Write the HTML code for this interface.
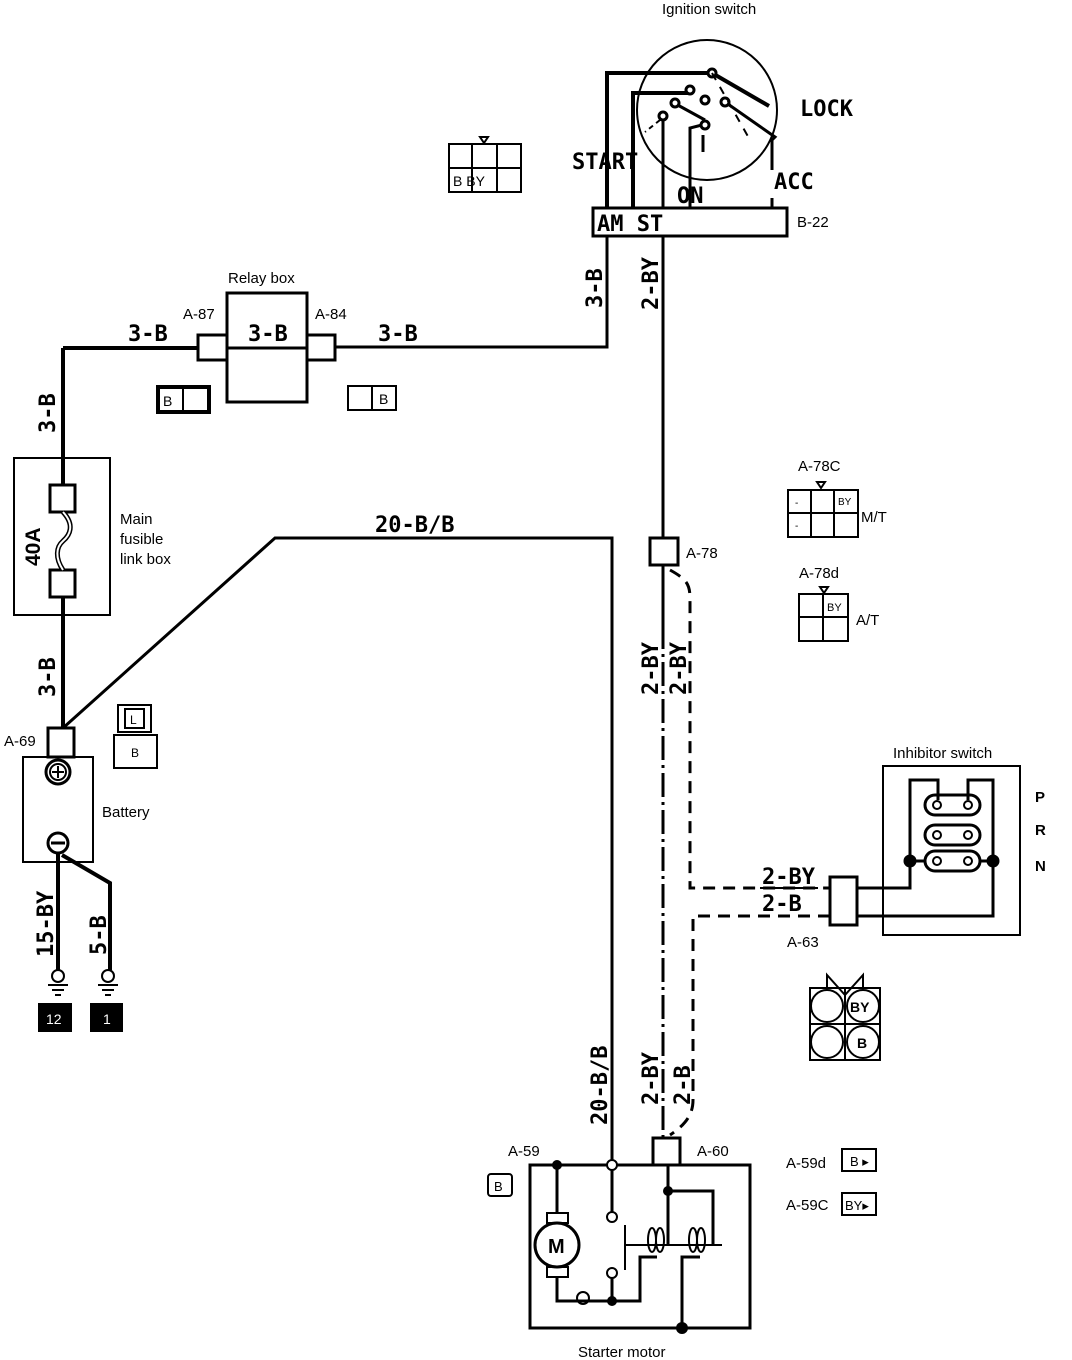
<!DOCTYPE html>
<html><head><meta charset="utf-8"><style>
html,body{margin:0;padding:0;background:#fff}
svg{display:block}
text{font-family:"Liberation Sans",sans-serif;fill:#000}
.w{font-size:22px;font-family:"DejaVu Sans Mono","Liberation Mono",monospace;font-weight:bold}
.s{font-size:15px}
</style></head><body>
<svg width="1072" height="1360" viewBox="0 0 1072 1360" xmlns="http://www.w3.org/2000/svg" fill="none" stroke="#000" stroke-width="3">
<!-- Ignition switch -->
<text class="s" x="662" y="14" stroke="none">Ignition switch</text>
<circle cx="707" cy="110" r="70" stroke-width="2"/>
<polyline points="607,208 607,73 712,73" stroke-width="4"/>
<polyline points="633,208 633,93 688,93" stroke-width="4"/>
<line x1="712" y1="73" x2="769" y2="106" stroke-width="4"/>
<line x1="663" y1="208" x2="663" y2="116" stroke-width="3"/>
<polyline points="674,103 705,120" stroke-width="3"/>
<polyline points="690,208 690,128 702,125" stroke-width="3"/>
<polyline points="725,102 775,137 772,140 772,170" stroke-width="3"/>
<line x1="772" y1="198" x2="772" y2="208" stroke-width="3"/>
<circle cx="712" cy="73" r="4" fill="#fff"/><circle cx="690" cy="90" r="4" fill="#fff"/>
<circle cx="675" cy="103" r="4" fill="#fff"/><circle cx="705" cy="100" r="4" fill="#fff"/>
<circle cx="663" cy="116" r="4" fill="#fff"/><circle cx="705" cy="125" r="4" fill="#fff"/>
<circle cx="725" cy="102" r="4" fill="#fff"/>
<line x1="703" y1="135" x2="703" y2="152" stroke-width="3"/>
<line x1="712" y1="73" x2="750" y2="140" stroke-dasharray="8,8" stroke-width="2"/>
<line x1="660" y1="120" x2="645" y2="132" stroke-dasharray="5,4" stroke-width="2"/>
<text class="w" x="800" y="116" stroke="none" font-size="24">LOCK</text>
<text class="w" x="572" y="169" stroke="none">START</text>
<text class="w" x="677" y="203" stroke="none">ON</text>
<text class="w" x="774" y="189" stroke="none">ACC</text>
<rect x="593" y="208" width="194" height="28" stroke-width="3"/>
<text class="w" x="597" y="231" stroke="none">AM  ST</text>
<text class="s" x="797" y="227" stroke="none">B-22</text>
<rect x="449" y="144" width="72" height="48" stroke-width="2"/>
<line x1="472" y1="144" x2="472" y2="192" stroke-width="2"/><line x1="497" y1="144" x2="497" y2="192" stroke-width="2"/>
<line x1="449" y1="168" x2="521" y2="168" stroke-width="2"/>
<path d="M480 137 L488 137 L484 143 Z" stroke-width="2"/>
<text x="453" y="186" stroke="none" font-size="14">B BY</text>

<polyline points="607,236 607,347 335,347" stroke-width="3"/>
<line x1="663" y1="236" x2="663" y2="538" stroke-width="3"/>
<text class="w" transform="translate(602,308) rotate(-90)" stroke="none">3-B</text>
<text class="w" transform="translate(658,310) rotate(-90)" stroke="none">2-BY</text>

<text class="s" x="228" y="283" stroke="none">Relay box</text>
<rect x="227" y="293" width="80" height="109" stroke-width="3"/>
<line x1="227" y1="348" x2="307" y2="348"/>
<rect x="198" y="335" width="29" height="25"/>
<rect x="307" y="335" width="28" height="25"/>
<line x1="63" y1="348" x2="198" y2="348" stroke-width="4"/>
<text class="w" x="128" y="341" stroke="none">3-B</text>
<text class="w" x="248" y="341" stroke="none">3-B</text>
<text class="w" x="378" y="341" stroke="none">3-B</text>
<text class="s" x="183" y="319" stroke="none">A-87</text>
<text class="s" x="315" y="319" stroke="none">A-84</text>
<rect x="158" y="387" width="51" height="25" stroke-width="4"/>
<line x1="183" y1="387" x2="183" y2="412" stroke-width="2"/>
<text x="163" y="406" stroke="none" font-size="14">B</text>
<rect x="348" y="386" width="48" height="24" stroke-width="2"/>
<line x1="372" y1="386" x2="372" y2="410" stroke-width="2"/>
<text x="379" y="404" stroke="none" font-size="14">B</text>

<line x1="63" y1="348" x2="63" y2="485" stroke-width="4"/>
<text class="w" transform="translate(55,433) rotate(-90)" stroke="none">3-B</text>
<rect x="14" y="458" width="96" height="157" stroke-width="2"/>
<rect x="50" y="485" width="25" height="27" stroke-width="3"/>
<rect x="50" y="570" width="25" height="27" stroke-width="3"/>
<path d="M63 512 C75 525,70 535,63 541 C56 547,55 558,63 570" stroke-width="5"/>
<path d="M63 512 C75 525,70 535,63 541 C56 547,55 558,63 570" stroke="#fff" stroke-width="2"/>
<text transform="translate(40,566) rotate(-90)" stroke="none" font-size="21" font-weight="bold">40A</text>
<text class="s" x="120" y="524" stroke="none">Main</text>
<text class="s" x="120" y="544" stroke="none">fusible</text>
<text class="s" x="120" y="564" stroke="none">link box</text>
<line x1="63" y1="597" x2="63" y2="728" stroke-width="4"/>
<text class="w" transform="translate(55,697) rotate(-90)" stroke="none">3-B</text>

<polyline points="63,728 275,538 612,538 612,1162" stroke-width="3"/>
<text class="w" x="375" y="532" stroke="none">20-B/B</text>
<text class="w" transform="translate(607,1125) rotate(-90)" stroke="none">20-B/B</text>

<text class="s" x="4" y="746" stroke="none">A-69</text>
<rect x="48" y="728" width="26" height="29" stroke-width="3"/>
<rect x="23" y="757" width="70" height="105" stroke-width="2"/>
<circle cx="58" cy="772" r="12" stroke-width="3"/><circle cx="58" cy="772" r="8" stroke-width="2"/>
<line x1="52" y1="772" x2="64" y2="772" stroke-width="2"/><line x1="58" y1="766" x2="58" y2="778" stroke-width="2"/>
<circle cx="58" cy="843" r="10" stroke-width="3"/><line x1="51" y1="843" x2="65" y2="843" stroke-width="3"/>
<text class="s" x="102" y="817" stroke="none">Battery</text>
<rect x="118" y="705" width="33" height="27" stroke-width="2"/>
<rect x="125" y="709" width="19" height="19" stroke-width="2"/>
<text x="130" y="724" stroke="none" font-size="12">L</text>
<rect x="114" y="735" width="43" height="33" stroke-width="2"/>
<text x="131" y="757" stroke="none" font-size="12">B</text>
<line x1="58" y1="853" x2="58" y2="970" stroke-width="4"/>
<polyline points="62,855 110,883 110,970" stroke-width="4"/>
<text class="w" transform="translate(53,957) rotate(-90)" stroke="none">15-BY</text>
<text class="w" transform="translate(106,955) rotate(-90)" stroke="none">5-B</text>
<circle cx="58" cy="976" r="6" stroke-width="2"/><circle cx="108" cy="976" r="6" stroke-width="2"/>
<g stroke-width="2"><line x1="48" y1="985" x2="68" y2="985"/><line x1="52" y1="990" x2="64" y2="990"/><line x1="55" y1="995" x2="61" y2="995"/>
<line x1="98" y1="985" x2="118" y2="985"/><line x1="102" y1="990" x2="114" y2="990"/><line x1="105" y1="995" x2="111" y2="995"/></g>
<rect x="38" y="1003" width="34" height="29" fill="#000" stroke="none"/>
<rect x="90" y="1003" width="33" height="29" fill="#000" stroke="none"/>
<text x="46" y="1024" style="fill:#fff" stroke="none" font-size="14">12</text>
<text x="103" y="1024" style="fill:#fff" stroke="none" font-size="14">1</text>

<rect x="650" y="538" width="28" height="27" stroke-width="3"/>
<text class="s" x="686" y="558" stroke="none">A-78</text>
<line x1="663" y1="565" x2="663" y2="625" stroke-width="3"/>
<line x1="663" y1="625" x2="663" y2="1138" stroke-width="3" stroke-dasharray="24,5,3,5"/>
<path d="M670 570 C688 580,690 585,690 600 L690 888 L830 888" stroke-width="3" stroke-dasharray="12,8"/>
<path d="M830 916 L693 916 L693 1100 C693 1115,685 1125,670 1135" stroke-width="3" stroke-dasharray="12,8"/>
<text class="w" transform="translate(658,695) rotate(-90)" stroke="none">2-BY</text>
<text class="w" transform="translate(686,695) rotate(-90)" stroke="none">2-BY</text>
<text class="w" transform="translate(658,1105) rotate(-90)" stroke="none">2-BY</text>
<text class="w" transform="translate(690,1105) rotate(-90)" stroke="none">2-B</text>
<text class="s" x="798" y="471" stroke="none">A-78C</text>
<path d="M817 482 L825 482 L821 488 Z" stroke-width="2"/>
<path d="M788 490 L858 490 L858 537 L788 537 Z" stroke-width="2"/>
<line x1="811" y1="490" x2="811" y2="537" stroke-width="2"/><line x1="834" y1="490" x2="834" y2="537" stroke-width="2"/>
<line x1="788" y1="513" x2="858" y2="513" stroke-width="2"/>
<text x="838" y="505" stroke="none" font-size="10">BY</text>
<text x="795" y="506" stroke="none" font-size="10">-</text><text x="795" y="529" stroke="none" font-size="10">-</text>
<text class="s" x="861" y="522" stroke="none">M/T</text>
<text class="s" x="799" y="578" stroke="none">A-78d</text>
<path d="M820 587 L828 587 L824 593 Z" stroke-width="2"/>
<rect x="799" y="594" width="49" height="47" stroke-width="2"/>
<line x1="823" y1="594" x2="823" y2="641" stroke-width="2"/><line x1="799" y1="617" x2="848" y2="617" stroke-width="2"/>
<text x="827" y="611" stroke="none" font-size="11">BY</text>
<text class="s" x="856" y="625" stroke="none">A/T</text>

<text class="s" x="893" y="758" stroke="none">Inhibitor switch</text>
<rect x="883" y="766" width="137" height="169" stroke-width="2"/>
<text class="s" x="1035" y="802" stroke="none" font-weight="bold">P</text>
<text class="s" x="1035" y="835" stroke="none" font-weight="bold">R</text>
<text class="s" x="1035" y="871" stroke="none" font-weight="bold">N</text>
<rect x="830" y="877" width="27" height="48" stroke-width="3"/>
<text class="s" x="787" y="947" stroke="none">A-63</text>
<text class="w" x="762" y="884" stroke="none">2-BY</text>
<text class="w" x="762" y="911" stroke="none">2-B</text>
<line x1="760" y1="888" x2="818" y2="888" stroke-width="2"/>
<polyline points="857,888 910,888 910,780 938,780 938,800" stroke-width="3"/>
<polyline points="857,916 993,916 993,780 968,780 968,800" stroke-width="3"/>
<rect x="925" y="795" width="55" height="20" rx="10" stroke-width="3"/>
<rect x="925" y="825" width="55" height="20" rx="10" stroke-width="3"/>
<rect x="925" y="851" width="55" height="20" rx="10" stroke-width="3"/>
<g stroke-width="2"><circle cx="937" cy="805" r="4"/><circle cx="968" cy="805" r="4"/><circle cx="937" cy="835" r="4"/><circle cx="968" cy="835" r="4"/><circle cx="937" cy="861" r="4"/><circle cx="968" cy="861" r="4"/></g>
<line x1="910" y1="861" x2="925" y2="861"/><line x1="980" y1="861" x2="993" y2="861"/>
<circle cx="910" cy="861" r="5" fill="#000"/><circle cx="993" cy="861" r="5" fill="#000"/>
<rect x="810" y="988" width="70" height="72" stroke-width="2"/>
<line x1="845" y1="988" x2="845" y2="1060" stroke-width="2"/><line x1="810" y1="1024" x2="880" y2="1024" stroke-width="2"/>
<g stroke-width="2"><circle cx="827" cy="1006" r="16"/><circle cx="863" cy="1006" r="16"/><circle cx="827" cy="1042" r="16"/><circle cx="863" cy="1042" r="16"/></g>
<polyline points="827,988 827,975 845,995 863,975 863,988" stroke-width="2"/>
<text x="850" y="1012" stroke="none" font-size="14" font-weight="bold">BY</text>
<text x="857" y="1048" stroke="none" font-size="14" font-weight="bold">B</text>

<rect x="653" y="1138" width="27" height="27" stroke-width="3"/>
<text class="s" x="508" y="1156" stroke="none">A-59</text>
<text class="s" x="697" y="1156" stroke="none">A-60</text>
<rect x="488" y="1174" width="24" height="22" rx="3" stroke-width="2"/>
<text x="494" y="1191" stroke="none" font-size="13">B</text>
<rect x="530" y="1165" width="220" height="163" stroke-width="3"/>
<line x1="557" y1="1165" x2="557" y2="1213" stroke-width="3"/>
<rect x="547" y="1213" width="21" height="10" stroke-width="2"/>
<circle cx="557" cy="1245" r="22" stroke-width="3"/>
<text x="548" y="1253" stroke="none" font-size="20" font-weight="bold">M</text>
<rect x="547" y="1267" width="21" height="10" stroke-width="2"/>
<polyline points="557,1277 557,1301 613,1301 640,1301 640,1257 657,1257" stroke-width="3"/>
<line x1="612" y1="1165" x2="612" y2="1212" stroke-width="3"/>
<circle cx="612" cy="1165" r="5" fill="#fff" stroke-width="2"/>
<circle cx="612" cy="1217" r="5" fill="#fff" stroke-width="2"/>
<circle cx="612" cy="1273" r="5" fill="#fff" stroke-width="2"/>
<line x1="612" y1="1278" x2="612" y2="1301"/>
<line x1="625" y1="1225" x2="625" y2="1270" stroke-width="2"/>
<line x1="625" y1="1245" x2="722" y2="1245" stroke-width="2"/>
<ellipse cx="583" cy="1298" rx="6" ry="6" stroke-width="2"/>
<g stroke-width="2"><ellipse cx="652" cy="1240" rx="4" ry="12"/><ellipse cx="660" cy="1240" rx="4" ry="12"/><ellipse cx="693" cy="1240" rx="4" ry="12"/><ellipse cx="701" cy="1240" rx="4" ry="12"/></g>
<polyline points="668,1165 668,1191 713,1191 713,1245" stroke-width="3"/>
<line x1="668" y1="1191" x2="668" y2="1245"/>
<polyline points="700,1257 682,1257 682,1328" stroke-width="3"/>
<g fill="#000" stroke="none"><circle cx="557" cy="1165" r="5"/><circle cx="612" cy="1301" r="5"/><circle cx="668" cy="1191" r="5"/><circle cx="682" cy="1328" r="6"/></g>
<text class="s" x="578" y="1357" stroke="none">Starter motor</text>
<text class="s" x="786" y="1168" stroke="none">A-59d</text>
<rect x="842" y="1149" width="34" height="22" stroke-width="2"/>
<text x="850" y="1166" stroke="none" font-size="13">B ▸</text>
<text class="s" x="786" y="1210" stroke="none">A-59C</text>
<rect x="842" y="1193" width="34" height="22" stroke-width="2"/>
<text x="845" y="1210" stroke="none" font-size="13">BY▸</text>
</svg>
</body></html>
